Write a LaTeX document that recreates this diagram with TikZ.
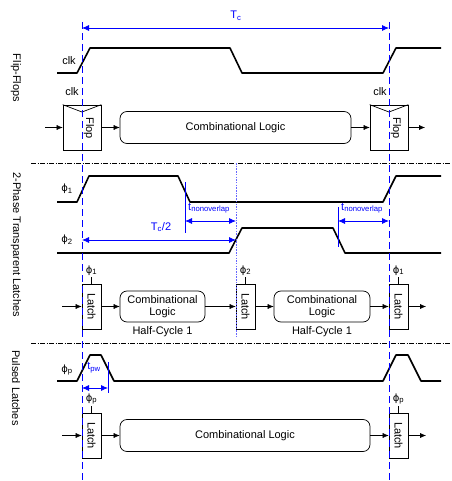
\documentclass[tikz,border=0pt]{standalone}
\usepackage{fontspec}
\setmainfont{Liberation Sans}
\newfontfamily\phifont{DejaVu Sans}
\usetikzlibrary{arrows.meta,positioning}
\newcommand\ph[1]{{\phifont\fontsize{10}{12}\selectfont ϕ}\textsubscript{#1}}

\begin{document}
\begin{tikzpicture}[x=1pt,y=-1pt,>={Latex[length=6pt,width=5pt]},
  font=\fontsize{11}{13}\selectfont,
  wave/.style={line width=1.6pt,line join=round},
  reg/.style={draw,line width=0.7pt,minimum width=38pt,minimum height=45pt,inner sep=0pt},
  latch/.style={draw,line width=0.7pt,minimum width=19pt,minimum height=45pt,inner sep=0pt},
  logic/.style={draw,line width=0.7pt,rounded corners=7pt,minimum height=32pt,inner sep=0pt,align=center,font=\fontsize{11}{12}\selectfont},
  clkline/.style={blue,dash pattern=on 7pt off 4pt,line width=0.8pt},
  halfline/.style={blue!60,dash pattern=on 1.5pt off 1.2pt,line width=1pt},
  tmark/.style={blue,line width=0.8pt},
  tm/.style={blue,<->,line width=0.8pt,>={Latex[length=7pt,width=6pt]}},
  tl/.style={blue,inner sep=1pt},
  divider/.style={line width=0.5pt,dash pattern=on 5pt off 1.5pt on 1pt off 1.5pt},
  sec/.style={rotate=-90},
  tick/.style={line width=0.5pt}]
\useasboundingbox (0,0) rectangle (451,481);

\coordinate (e1t) at (82,22);   \coordinate (e1b) at (82,480);
\coordinate (e2t) at (389,22);  \coordinate (e2b) at (389,480);
\coordinate (h1t) at (236,163); \coordinate (h1b) at (236,336);

\node[sec] (s1) at (16,78) {Flip-Flops};
\node[sec] (s2) at (16,245) {2-Phase Transparent Latches};
\node[sec] (s3) at (16,388) {Pulsed Latches};
\draw[divider] (31,163) -- (451,163);
\draw[divider] (31,343) -- (451,343);

% flip-flops
\draw[tm] (82,28) -- (389,28);
\node[tl] (tc) at (236,16) {T\textsubscript{c}};
\draw[wave] (57,73) -- (77,73) -- (90,48) -- (230,48) -- (242,73) -- (383,73) -- (396,48) -- (441,48);
\node (clk) at (69,61) {clk};
\node[reg] (f1) at (82,127.5) {};
\draw[line width=0.7pt] (f1.north west) -- (82,112) -- (f1.north east);
\node[rotate=-90] at (89,128) {Flop};
\node at (72,92) {clk};
\node[logic,minimum width=231pt] (c1) at (235.5,127.5) {Combinational Logic};
\node[reg] (f2) at (389,127.5) {};
\draw[line width=0.7pt] (f2.north west) -- (389,112) -- (f2.north east);
\node[rotate=-90] at (396,128) {Flop};
\node at (380,92) {clk};
\coordinate (in1) at (45,127.5);
\coordinate (out1) at (425,127.5);
\draw[->] (in1) -- (f1);
\draw[->] (f1) -- (c1);
\draw[->] (c1) -- (f2);
\draw[->] (f2) -- (out1);

% 2-phase latches
\draw[wave] (57,202) -- (77,202) -- (89,176) -- (178,176) -- (190,202) -- (383,202) -- (396,176) -- (441,176);
\draw[wave] (57,253) -- (229,253) -- (242,228) -- (333,228) -- (345,253) -- (441,253);
\node at (67,189) {\ph{1}};
\node at (67,240) {\ph{2}};
\draw[tmark] (185,182) coordinate (m1) -- (185,233);
\draw[tmark] (338,207) coordinate (m2) -- (338,247);
\coordinate (a1) at (185,221);
\coordinate (a2) at (338,221);
\coordinate (a3) at (82,240);
\draw[tm] (a1) -- (a1 -| h1t);
\draw[tm] (a2) -- (a2 -| e2t);
\draw[tm] (a3) -- (a3 -| h1t);
\node[tl,anchor=base west] at (187,210) {t\textsubscript{nonoverlap}};
\node[tl,anchor=base west] at (340,210) {t\textsubscript{nonoverlap}};
\node[tl] at (161,227) {T\textsubscript{c}/2};

\node[latch] (l1) at (91.5,306.5) {};
\node[latch] (l2) at (245.5,306.5) {};
\node[latch] (l3) at (398.5,306.5) {};
\foreach \n in {l1,l2,l3} \node[rotate=-90] at (\n) {Latch};
\draw[tick] (l1.north) -- ++(0,-7) node[above,inner sep=1pt] {\ph{1}};
\draw[tick] (l2.north) -- ++(0,-7) node[above,inner sep=1pt] {\ph{2}};
\draw[tick] (l3.north) -- ++(0,-7) node[above,inner sep=1pt] {\ph{1}};
\node[logic,minimum width=85pt,minimum height=31pt] (c2) at (162.5,306.5) {Combinational\\Logic};
\node[logic,minimum width=96pt,minimum height=31pt] (c3) at (322,306.5) {Combinational\\Logic};
\node[below=1pt of c2] {Half-Cycle 1};
\node[below=1pt of c3] {Half-Cycle 1};
\coordinate (in2) at (62,306.5);
\coordinate (out2) at (426,306.5);
\draw[->] (in2) -- (l1);
\draw[->] (l1) -- (c2);
\draw[->] (c2) -- (l2);
\draw[->] (l2) -- (c3);
\draw[->] (c3) -- (l3);
\draw[->] (l3) -- (out2);

% pulsed latches
\draw[wave] (57,381) -- (77,381) -- (90,355) -- (101,355) -- (114,381) -- (383,381) -- (396,355) -- (408,355) -- (421,381) -- (441,381);
\node at (67,370) {\ph{p}};
\draw[tmark] (108,362) coordinate (m3) -- (108,393);
\coordinate (a4) at (108,388);
\draw[tm] (a4 -| e1t) -- (a4);
\node[tl] at (94,368) {t\textsubscript{pw}};
\node[latch] (l4) at (91.5,435.5) {};
\node[latch] (l5) at (398.5,435.5) {};
\foreach \n in {l4,l5} \node[rotate=-90] at (\n) {Latch};
\draw[tick] (l4.north) -- ++(0,-7) node[above,inner sep=1pt] {\ph{p}};
\draw[tick] (l5.north) -- ++(0,-7) node[above,inner sep=1pt] {\ph{p}};
\node[logic,minimum width=250pt] (c4) at (245,435.5) {Combinational Logic};
\coordinate (in3) at (62,435.5);
\coordinate (out3) at (426,435.5);
\draw[->] (in3) -- (l4);
\draw[->] (l4) -- (c4);
\draw[->] (c4) -- (l5);
\draw[->] (l5) -- (out3);

\draw[clkline] (e1t) -- (e1b);
\draw[clkline] (e2t) -- (e2b);
\draw[halfline] (h1t) -- (h1b);
\end{tikzpicture}
\end{document}
